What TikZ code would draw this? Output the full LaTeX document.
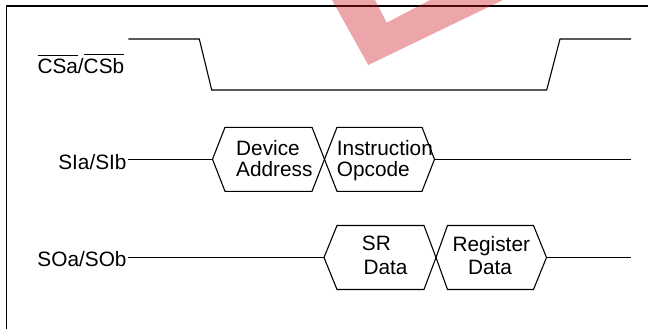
\documentclass[tikz,border=0pt]{standalone}
\usepackage{fontspec}
\usetikzlibrary{calc}
\setmainfont{Liberation Sans}
\newcommand\ovlbar[1]{\leavevmode\vbox{\hrule height 0.9pt\kern 3.8pt\hbox{#1}}}
\definecolor{wmred}{RGB}{205,20,28}
\begin{document}
\begin{tikzpicture}[x=1pt,y=-1pt,
  sig/.style={line width=1.1pt,line join=miter},
  lbl/.style={inner sep=0pt,font=\fontsize{20.8}{21}\selectfont},
  frame/.style={line width=1.1pt}]
\useasboundingbox (0,0) rectangle (648,329);
% frame
\coordinate (fTL) at (6.7,6);
\coordinate (fTR) at (648,6);
\coordinate (fBL) at (6.7,329);
\draw[frame] (fTR) -- (fTL) -- (fBL);
% CS signal
\coordinate (cs0) at (128.3,39);
\coordinate (cs1) at (199.3,39);
\coordinate (cs2) at (211.7,90);
\coordinate (cs3) at (546.7,90);
\coordinate (cs4) at (560,39);
\coordinate (cs5) at (631,39);
\draw[sig] (cs0) -- (cs1) -- (cs2) -- (cs3) -- (cs4) -- (cs5);
\node[lbl,anchor=base west] (cslbl) at (37.3,74) {\ovlbar{CSa}/\ovlbar{CSb}};
% SI signal
\node[lbl,anchor=base east] (silbl) at (126.7,169.3) {SIa/SIb};
\coordinate (si0) at (128.3,159.3);
\coordinate (h1L) at (212.5,159.3);
\coordinate (h1X) at (324.5,159.3);
\coordinate (h2R) at (434.5,159.3);
\coordinate (si1) at (631,159.3);
\draw[sig] (si0) -- (h1L);
\draw[sig] (h1L) -- ++(12.5,-32) -- ($(h1X)+(-12.5,-32)$) -- (h1X) -- ($(h1X)+(-12.5,32)$) -- ($(h1L)+(12.5,32)$) -- cycle;
\draw[sig] (h1X) -- ++(12.5,-32) -- ($(h2R)+(-12.5,-32)$) -- (h2R) -- ($(h2R)+(-12.5,32)$) -- ($(h1X)+(12.5,32)$) -- cycle;
\draw[sig] (h2R) -- (si1);
\node[lbl,anchor=base west] (dev) at (236,155) {Device};
\node[lbl,anchor=base west] (addr) at (236,176) {Address};
\node[lbl,anchor=base west] (instr) at (336.7,155) {Instruction};
\node[lbl,anchor=base west] (opc) at (336.7,176) {Opcode};
% SO signal
\node[lbl,anchor=base east] (solbl) at (126.7,266) {SOa/SOb};
\coordinate (so0) at (128.3,257.5);
\coordinate (h3L) at (324,257.5);
\coordinate (h3X) at (436,257.5);
\coordinate (h4R) at (546.5,257.5);
\coordinate (so1) at (631,257.5);
\draw[sig] (so0) -- (h3L);
\draw[sig] (h3L) -- ++(13,-32) -- ($(h3X)+(-12,-32)$) -- (h3X) -- ($(h3X)+(-12,32)$) -- ($(h3L)+(13,32)$) -- cycle;
\draw[sig] (h3X) -- ++(11.5,-32) -- ($(h4R)+(-13,-32)$) -- (h4R) -- ($(h4R)+(-13,32)$) -- ($(h3X)+(11.5,32)$) -- cycle;
\draw[sig] (h4R) -- (so1);
\node[lbl,anchor=base west] (sr) at (361.7,250) {SR};
\node[lbl,anchor=base west] (srd) at (363.3,274.3) {Data};
\node[lbl,anchor=base] (reg) at (491.3,251) {Register};
\node[lbl,anchor=base] (regd) at (490,274.3) {Data};
% watermark (semi-transparent, over the frame)
\fill[wmred,opacity=0.383] (332,0) -- (368.3,65) -- (503,0) -- (430,0) -- (386.7,22.7) -- (375,0) -- cycle;
\end{tikzpicture}
\end{document}
